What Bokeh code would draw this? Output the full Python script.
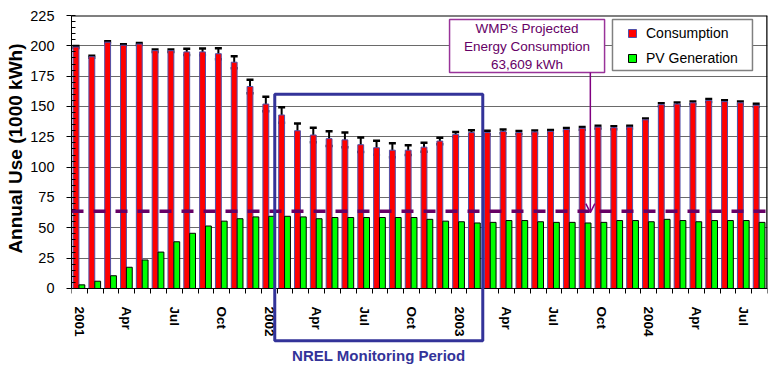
from bokeh.plotting import figure
from bokeh.models import (ColumnDataSource, Range1d, FixedTicker, Title,
                          Span, BoxAnnotation, Label, Arrow, OpenHead, Whisker, TeeHead,
                          Legend, LegendItem)
from bokeh.embed import file_html
from bokeh.resources import INLINE

# ---------------- data ----------------
tick_labels = ["2001", "Apr", "Jul", "Oct", "2002", "Apr", "Jul", "Oct",
               "2003", "Apr", "Jul", "Oct", "2004", "Apr", "Jul"]
consumption = [199, 191, 203, 200.5, 201.5, 196, 196, 195, 195, 193.5, 186.5, 166.5,
               152, 143, 130, 126.5, 123.5, 122.5, 118.5, 116, 114, 114, 116.5, 121.5,
               127, 128.5, 128.5, 129.5, 128.5, 129, 129.5, 131, 132, 133, 132.5, 133,
               139, 151.5, 152, 153, 155, 154, 153, 151]
pv_generation = [3, 6, 10.5, 17.5, 23.5, 30, 38.5, 45.5, 51.5, 55.5, 57.5, 59,
                 59.5, 59.5, 59, 57.5, 58.5, 58.5, 58.5, 58.5, 58.5, 58.5, 57, 55.5,
                 55, 54, 54.5, 56, 56, 55, 54.5, 54.5, 54, 54.5, 56, 56,
                 55, 57, 56, 55, 56, 56, 56, 54.5]
consumption_err = [0.8, 0.8, 0.8, 0.8, 0.8, 1, 1, 2.5, 2.7, 4.5, 5, 5.5,
                   6, 6.3, 6, 6, 6, 6, 6, 5.8, 5.8, 4, 3.7, 2.7,
                   2, 2, 1.5, 1.5, 1.2, 1.2, 1.2, 1.2, 1.2, 1.2, 1.2, 1.2,
                   1.2, 1.2, 1.2, 1.2, 1.2, 1.2, 1.2, 1.2]
y_max = 225
y_step = 25
y_title = "Annual Use (1000 kWh)"
projected = 63.609
projected_text = ["WMP's Projected", "Energy Consumption", "63,609 kWh"]
nrel_start, nrel_end = 12.85, 26.0   # month index span of monitoring period box
nrel_text = "NREL Monitoring Period"

n = len(consumption)
idx = list(range(n))
red_x = [i + 0.285 for i in idx]
green_x = [i + 0.655 for i in idx]

src = ColumnDataSource(dict(
    rx=red_x, gx=green_x, cons=consumption, pv=pv_generation,
    lo=[c - e for c, e in zip(consumption, consumption_err)],
    hi=[c + e for c, e in zip(consumption, consumption_err)],
))

FONT = "Liberation Sans"
PURPLE = "#660066"
NAVY = "#333399"

# frame extends below zero so the monitoring-period box can reach under the axis
p = figure(width=769, height=366, output_backend="svg", toolbar_location=None,
           x_range=Range1d(0, n), y_range=Range1d(-64.3, y_max),
           min_border_left=71, min_border_right=2, min_border_top=15, min_border_bottom=0)
p.background_fill_color = "white"
p.border_fill_color = "white"
p.outline_line_color = None

# grid
p.xgrid.grid_line_color = None
p.ygrid.grid_line_color = "#6a6a6a"
p.ygrid.grid_line_width = 1

# y axis
p.yaxis.ticker = FixedTicker(ticks=list(range(0, y_max + 1, y_step)),
                             minor_ticks=list(range(0, y_max + 1, 5)))
p.yaxis.bounds = (0, y_max)
p.yaxis.major_label_text_font = FONT
p.yaxis.major_label_text_font_size = "14.5px"
p.yaxis.major_label_text_color = "black"
p.yaxis.major_label_standoff = 12
p.yaxis.major_tick_out = 5
p.yaxis.major_tick_in = 0
p.yaxis.minor_tick_in = 4
p.yaxis.minor_tick_out = 0
p.yaxis.axis_line_color = "black"
p.yaxis.major_tick_line_color = "black"
p.yaxis.minor_tick_line_color = "black"

# y-axis title, centred on the 0..225 part of the axis
p.add_layout(Title(text=y_title, align="right", offset=28, vertical_align="middle",
                   standoff=2, text_font=FONT, text_font_style="bold",
                   text_font_size="19px", text_color="black"), "left")

# x axis, pinned at y = 0
label_pos = [3 * k + 0.5 for k in range(len(tick_labels))]
p.xaxis.fixed_location = 0
p.xaxis.ticker = FixedTicker(ticks=label_pos, minor_ticks=list(range(n + 1)))
p.xaxis.major_label_overrides = {pos: lab for pos, lab in zip(label_pos, tick_labels)}
p.xaxis.major_label_orientation = "vertical"
p.xaxis.major_label_text_font = FONT
p.xaxis.major_label_text_font_style = "bold"
p.xaxis.major_label_text_font_size = "13.5px"
p.xaxis.major_label_text_color = "black"
p.xaxis.major_label_standoff = 13
p.xaxis.major_tick_out = 0
p.xaxis.major_tick_in = 0
p.xaxis.minor_tick_out = 5
p.xaxis.minor_tick_in = 0
p.xaxis.axis_line_color = "black"
p.xaxis.minor_tick_line_color = "black"

# frame top / right borders
p.add_layout(Span(location=y_max, dimension="width", line_color="black", line_width=2))
p.segment(x0=[n], y0=[0], x1=[n], y1=[y_max], line_color="black", line_width=2.5)

# bars
r_red = p.vbar(x="rx", top="cons", width=0.37, source=src, fill_color="#ff0000",
               line_color="#5050a8", line_width=1)
r_green = p.vbar(x="gx", top="pv", width=0.37, source=src, fill_color="#00ff00",
                 line_color="black", line_width=1)

# error bars
wh = Whisker(base="rx", lower="lo", upper="hi", source=src, line_color="black", line_width=2,
             upper_head=TeeHead(size=7, line_width=2.5, line_color="black"),
             lower_head=TeeHead(size=7, line_width=2.5, line_color="black"))
p.add_layout(wh)

# projected consumption line
p.add_layout(Span(location=projected, dimension="width", line_color=PURPLE,
                  line_width=3.5, line_dash="12 10"))

# projected annotation box
p.add_layout(BoxAnnotation(left=23.9, right=33.7, bottom=178, top=221.8,
                           fill_color="white", fill_alpha=1,
                           line_color="#993399", line_width=1.5, line_alpha=1))
for k, t in enumerate(projected_text):
    p.add_layout(Label(x=28.8, y=214.5 - k * 14.8, text=t, text_align="center",
                       text_baseline="middle", text_font=FONT, text_font_size="13.5px",
                       text_color=PURPLE))
p.add_layout(Arrow(end=OpenHead(size=9, line_color="#800080", line_width=1.5),
                   x_start=32.8, y_start=178, x_end=32.8, y_end=62.5,
                   line_color="#800080", line_width=1.5))

# legend box
p.add_layout(BoxAnnotation(left=34.2, right=43.05, bottom=179.7, top=221.8,
                           fill_color="white", fill_alpha=1,
                           line_color="#808080", line_width=1.5, line_alpha=1))
legend = Legend(items=[LegendItem(label="Consumption", renderers=[r_red]),
                       LegendItem(label="PV Generation", renderers=[r_green])],
                location=(551, 294), padding=5, spacing=7, margin=0,
                glyph_width=10, glyph_height=10, label_height=18, label_standoff=9,
                label_text_font=FONT, label_text_font_size="14px",
                label_text_color="black",
                background_fill_alpha=0, border_line_alpha=0)
p.add_layout(legend, "center")

# NREL monitoring period box
p.add_layout(BoxAnnotation(left=nrel_start, right=nrel_end, bottom=-43, top=160,
                           fill_alpha=0, line_color=NAVY, line_width=3, line_alpha=1))
p.add_layout(Label(x=(nrel_start + nrel_end) / 2, y=-55, text=nrel_text,
                   text_align="center", text_baseline="middle", text_font=FONT,
                   text_font_style="bold", text_font_size="15px", text_color=NAVY))

open("out.html", "w").write(file_html(p, INLINE))
